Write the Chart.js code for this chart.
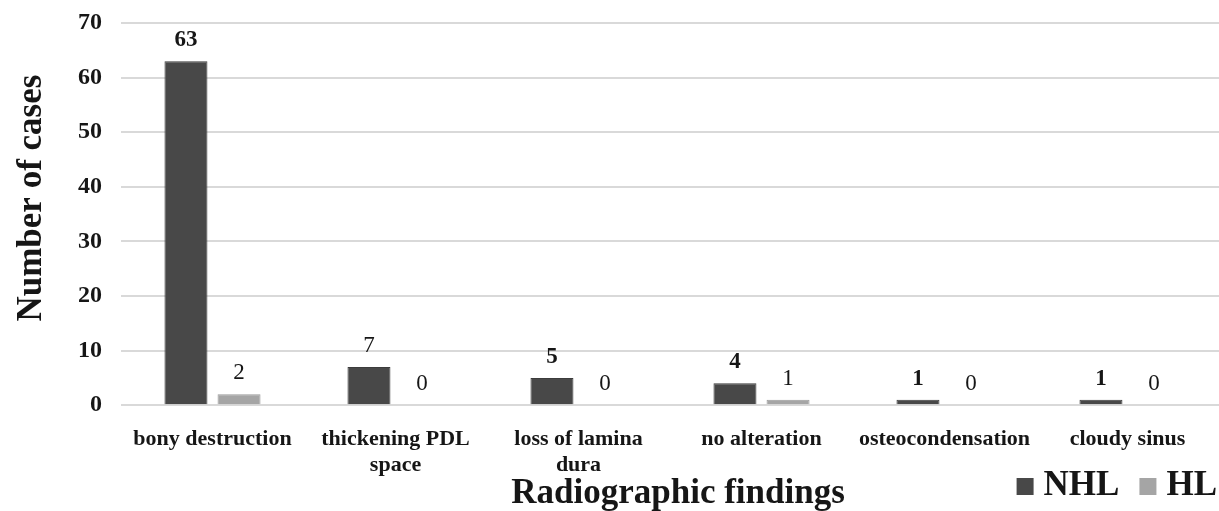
<!DOCTYPE html>
<html>
<head>
<meta charset="utf-8">
<script src="https://cdn.jsdelivr.net/npm/chart.js@4.4.1/dist/chart.umd.min.js"></script>
<style>
html,body{margin:0;padding:0;background:#fff;}
#wrap{width:1219px;height:511px;position:relative;}
</style>
</head>
<body>
<div id="wrap"><canvas id="c"></canvas></div>
<script>
const categories = [["bony destruction"], ["thickening PDL", "space"], ["loss of lamina", "dura"], ["no alteration"], ["osteocondensation"], ["cloudy sinus"]];
const nhlValues = [63, 7, 5, 4, 1, 1];
const hlValues = [2, 0, 0, 1, 0, 0];
const yTicks = [0, 10, 20, 30, 40, 50, 60, 70];
const seriesNames = ['NHL', 'HL'];

const FONT = "'Liberation Serif', 'Times New Roman', serif";
const TEXT = '#161616';

const valueLabels = {
  id: 'valueLabels',
  afterDatasetsDraw(chart) {
    const ctx = chart.ctx;
    chart.data.datasets.forEach((ds, di) => {
      const meta = chart.getDatasetMeta(di);
      meta.data.forEach((el, i) => {
        const weight = (ds.labelWeights && ds.labelWeights[i]) || 'normal';
        ctx.save();
        ctx.font = weight + ' 23px ' + FONT;
        ctx.fillStyle = TEXT;
        ctx.textAlign = 'center';
        ctx.textBaseline = 'middle';
        ctx.fillText(String(ds.data[i]), el.x, el.y - 21);
        ctx.restore();
      });
    });
  }
};

const titlesAndLegend = {
  id: 'titlesAndLegend',
  afterDraw(chart) {
    const ctx = chart.ctx;
    const ca = chart.chartArea;
    ctx.save();
    ctx.fillStyle = TEXT;
    // x axis title
    ctx.font = 'bold 35px ' + FONT;
    ctx.textAlign = 'center';
    ctx.textBaseline = 'alphabetic';
    ctx.fillText('Radiographic findings', (ca.left + ca.right) / 2 + 8, 503);
    // y axis title
    ctx.save();
    ctx.translate(41, (ca.top + ca.bottom) / 2 - 16);
    ctx.rotate(-Math.PI / 2);
    ctx.font = 'bold 35px ' + FONT;
    ctx.textAlign = 'center';
    ctx.textBaseline = 'alphabetic';
    ctx.fillText('Number of cases', 0, 0);
    ctx.restore();
    // legend
    ctx.font = 'bold 35px ' + FONT;
    ctx.textAlign = 'left';
    const box = 17, gap = 10, itemGap = 20;
    const baseline = 495;
    const widths = seriesNames.map(n => ctx.measureText(n).width);
    let total = 0;
    widths.forEach((w, i) => { total += box + gap + w + (i < widths.length - 1 ? itemGap : 0); });
    let x = 1217 - total;
    chart.data.datasets.forEach((ds, i) => {
      ctx.fillStyle = ds.backgroundColor;
      ctx.fillRect(x, baseline - box, box, box);
      ctx.fillStyle = TEXT;
      ctx.fillText(seriesNames[i], x + box + gap, baseline);
      x += box + gap + widths[i] + itemGap;
    });
    ctx.restore();
  }
};

new Chart(document.getElementById('c'), {
  type: 'bar',
  data: {
    labels: categories,
    datasets: [
      { label: seriesNames[0], data: nhlValues, backgroundColor: '#484848', borderColor: '#3c3c3c', borderWidth: 1,
        labelWeights: ['bold', 'normal', 'bold', 'bold', 'bold', 'bold'] },
      { label: seriesNames[1], data: hlValues, backgroundColor: '#a5a5a5', borderColor: '#9a9a9a', borderWidth: 1,
        labelWeights: ['normal', 'normal', 'normal', 'normal', 'normal', 'normal'] }
    ]
  },
  options: {
    responsive: true,
    maintainAspectRatio: false,
    animation: false,
    categoryPercentage: 0.58,
    barPercentage: 0.81,
    layout: { padding: { top: 0, right: 0, left: 59, bottom: 19 } },
    plugins: {
      legend: { display: false },
      tooltip: { enabled: false }
    },
    scales: {
      x: {
        grid: { display: false },
        border: { display: false },
        ticks: {
          color: TEXT,
          font: { family: FONT, size: 22, weight: 'bold', lineHeight: 1.2 },
          padding: 13,
          maxRotation: 0,
          autoSkip: false
        }
      },
      y: {
        min: 0,
        max: 70,
        afterBuildTicks(axis) { axis.ticks = yTicks.map(v => ({ value: v })); },
        afterFit(scale) { scale.paddingTop = 23; },
        grid: { color: '#d9d9d9', lineWidth: 2, drawTicks: false },
        border: { display: false },
        ticks: {
          color: TEXT,
          font: { family: FONT, size: 24, weight: 'bold' },
          padding: 19
        }
      }
    }
  },
  plugins: [valueLabels, titlesAndLegend]
});
</script>
</body>
</html>
